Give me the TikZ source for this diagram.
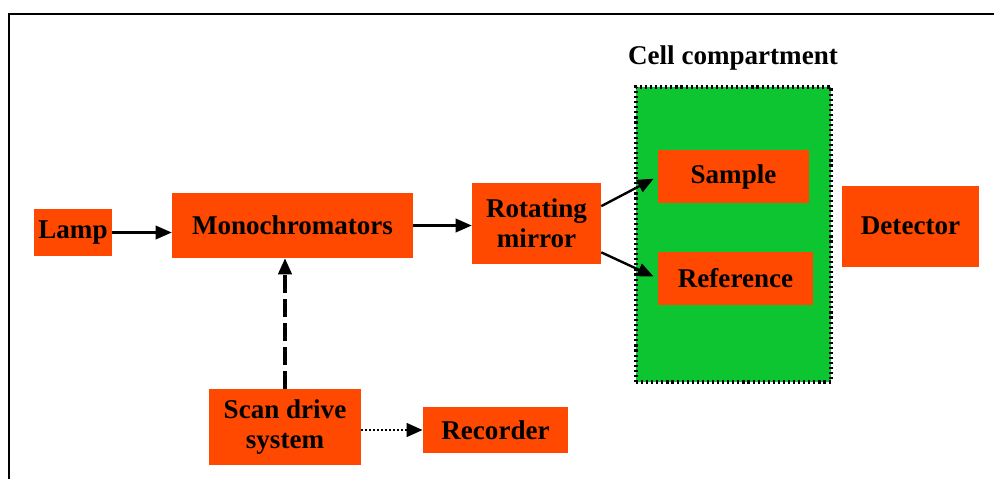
\documentclass[tikz,border=0pt]{standalone}
\usepackage{fontspec}
\setmainfont{Liberation Serif}
\usetikzlibrary{arrows.meta}

\definecolor{boxred}{RGB}{255,72,0}
\definecolor{cellgreen}{RGB}{12,197,48}

\tikzset{
  unit/.style={draw=none, fill=boxred, inner sep=0pt, align=center,
    font=\fontsize{20.3}{22.5}\selectfont\bfseries},
  flow/.style={line width=1.8pt, -{Triangle[length=12pt,width=10pt]}},
}

\begin{document}
\begin{tikzpicture}[x=0.75pt,y=0.75pt,yscale=-1,xscale=1]
\useasboundingbox (0,0) rectangle (994,479);

%Frame
\draw [line width=1.6pt] (9,479) -- (9,14.3) -- (994,14.3) ;

%Shape: Rectangle [cell compartment]
\node [fill=cellgreen, draw=black, line width=2.4pt, dash pattern={on 1.6pt off 2.2pt}, minimum width=146.25pt, minimum height=221.25pt, inner sep=0pt] (cell) at (733.5,234.5) {};
% Text Node
\node [font=\fontsize{20.3}{22.5}\selectfont\bfseries] (celltitle) at (733,58) {Cell compartment};

% Unit boxes
\node [unit, minimum width=58.5pt, minimum height=35.25pt] (lamp) at (73,232.5) {Lamp};
\node [unit, minimum width=180.75pt, minimum height=48.75pt] (mono) at (292.5,225.5) {Monochromators};
\node [unit, minimum width=96.75pt, minimum height=60.75pt] (mirror) at (536.5,223.5) {Rotating\\mirror};
\node [unit, minimum width=113.25pt, minimum height=39.75pt] (sample) at (733.5,176.5) {Sample};
\node [unit, minimum width=116.25pt, minimum height=39.75pt] (reference) at (735.5,278.5) {Reference};
\node [unit, minimum width=102.75pt, minimum height=60.75pt] (detector) at (910.5,226) {Detector};
\node [unit, minimum width=114pt, minimum height=57pt] (scan) at (285,427) {Scan drive\\system};
\node [unit, minimum width=108.75pt, minimum height=34.5pt] (recorder) at (495.5,430) {Recorder};

%Straight Lines
\draw [flow] (lamp.east) -- (lamp.east -| mono.west) ;
\draw [flow] (mono.east) -- (mono.east -| mirror.west) ;
\draw [flow, shorten >=3.5pt] (mirror.15) -- (sample.west) ;
\draw [flow, shorten >=3.5pt] (mirror.-24) -- (reference.west) ;
\draw [flow, line width=2.3pt, dash pattern={on 13pt off 5pt}] (scan.north) -- (scan.north |- mono.south) ;
\draw [flow, line width=2.2pt, dash pattern={on 1.6pt off 1.4pt}] (recorder.west -| scan.east) -- (recorder.west) ;

\end{tikzpicture}
\end{document}
